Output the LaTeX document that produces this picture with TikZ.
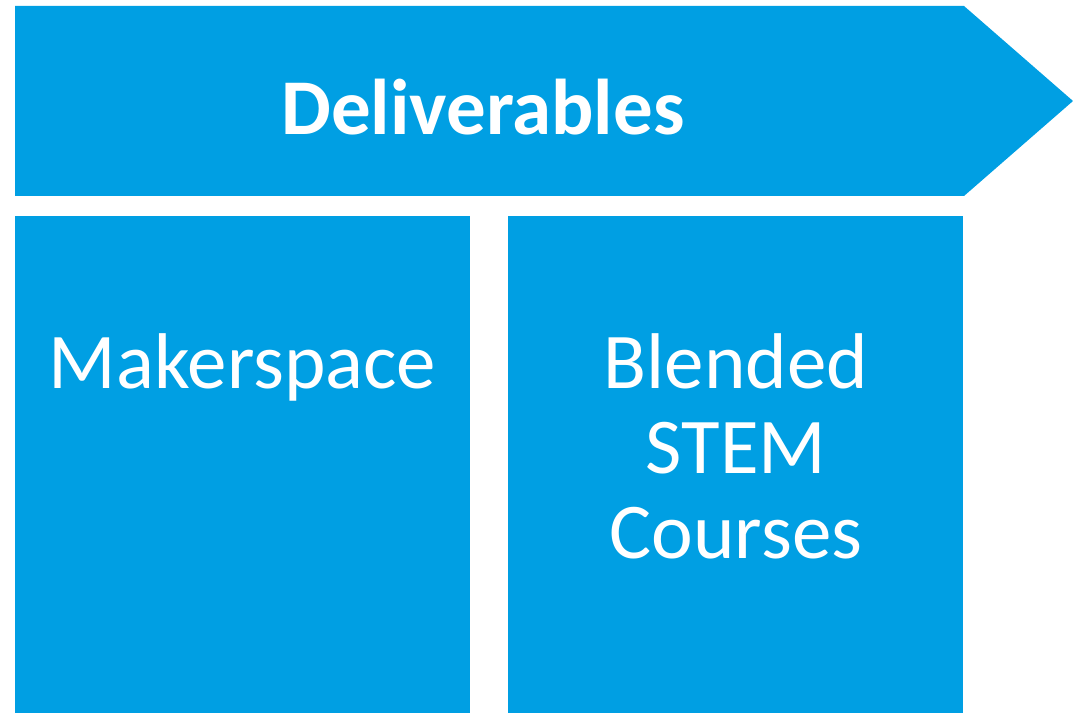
\documentclass[tikz,border=0pt]{standalone}
\usepackage{fontspec}
\setmainfont{Carlito}
\usepackage{xcolor}
\usepackage{tikz}
\definecolor{deliverblue}{RGB}{0,159,227}

\begin{document}
\begin{tikzpicture}[x=1pt,y=1pt, every node/.style={text=white,font=\fontsize{79}{86}\selectfont,inner sep=0pt}]
			\useasboundingbox (0,0) rectangle (1073,713);
			\fill[deliverblue] (15,517) -- (964,517) -- (1073,612) -- (964,707) -- (15,707) -- cycle;
			\fill[deliverblue] (15,0) rectangle (470,497);
			\fill[deliverblue] (508,0) rectangle (963,497);
			\node[anchor=base,font=\fontsize{79}{86}\selectfont\bfseries] (deliverables) at (483,578) {Deliverables};
			\node[anchor=base] (makerspace) at (242.5,325) {Makerspace};
			\node[anchor=base] (blended) at (736,325) {Blended};
			\node[anchor=base] (stem) at (736,240) {STEM};
			\node[anchor=base] (courses) at (736,155) {Courses};
		\end{tikzpicture}
\end{document}
